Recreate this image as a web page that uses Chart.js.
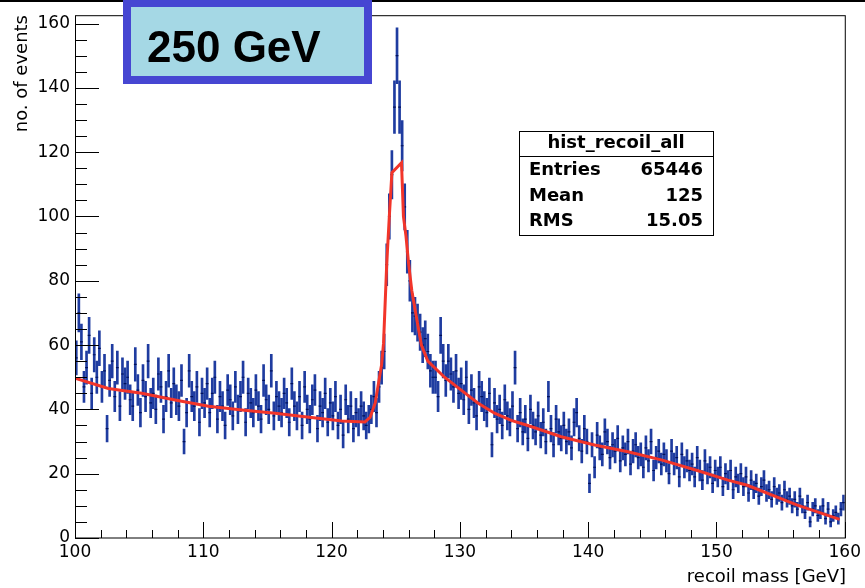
<!DOCTYPE html>
<html>
<head>
<meta charset="utf-8">
<title>recoil mass</title>
<script src="https://cdn.jsdelivr.net/npm/chart.js@4.4.0/dist/chart.umd.min.js"></script>
<style>
  html, body { margin: 0; padding: 0; background: #fff; }
  canvas { display: block; }
</style>
</head>
<body>
<canvas id="recoilChart" width="865" height="588"></canvas>
<script>
// histogram hist_recoil_all : 300 bins of 0.2 GeV from 100 to 160 GeV
const binLow = 100;
const binWidth = 0.2;
const counts = [
  56, 70, 61, 47, 53, 63, 45, 57, 50, 59,   // 100 - 102
  47, 52, 34, 49, 55, 44, 53, 41, 51, 48,   // 102 - 104
  50, 43, 41, 54, 46, 39, 49, 44, 55, 42,
  45, 40, 51, 47, 37, 44, 52, 42, 48, 43,
  41, 49, 30, 39, 52, 44, 41, 47, 36, 45,   // 108 - 110
  42, 48, 39, 45, 50, 37, 44, 41, 35, 46,
  43, 38, 47, 40, 44, 50, 36, 45, 42, 39,
  46, 41, 37, 49, 43, 40, 52, 38, 44, 41,
  39, 45, 42, 36, 48, 41, 38, 44, 35, 47,
  40, 37, 43, 46, 34, 41, 39, 45, 36, 42,   // 118 - 120
  38, 44, 35, 40, 32, 43, 37, 41, 34, 39,
  36, 41, 38, 35, 37, 40, 44, 39, 47, 53,
  58, 85, 100, 113, 134, 150, 134, 122, 103, 89,   // 124 - 126 (peak)
  80, 70, 69, 67, 64, 60, 62, 58, 52, 50,
  50, 44, 63, 55, 49, 55, 51, 47, 52, 45,   // 128 - 130
  48, 43, 50, 40, 46, 42, 38, 47, 44, 41,
  39, 45, 29, 42, 37, 40, 35, 43, 38, 36,
  41, 53, 34, 39, 33, 37, 31, 40, 35, 33,
  38, 32, 36, 30, 44, 34, 29, 37, 33, 31,
  35, 30, 33, 28, 36, 39, 31, 27, 34, 30,   // 138 - 140
  17, 29, 22, 32, 28, 26, 33, 30, 25, 29,
  27, 31, 24, 28, 26, 30, 23, 27, 29, 25,
  26, 22, 28, 24, 30, 21, 25, 27, 23, 26,
  24, 20, 27, 23, 25, 19, 26, 22, 24, 21,
  23, 19, 25, 21, 18, 24, 20, 22, 17, 21,   // 148 - 150
  19, 22, 16, 20, 18, 21, 15, 19, 17, 20,
  16, 19, 14, 18, 15, 17, 13, 16, 18, 14,
  15, 12, 16, 13, 14, 11, 15, 12, 13, 10,
  12, 9, 13, 10, 8, 11, 5, 9, 10, 7,
  8, 10, 6, 9, 5, 7, 8, 6, 9, 11            // 158 - 160
];
// weighted events: error of a bin = sqrt(weight * content)
const eventWeight = 0.5;

// fitted curve (red)
const fitX = [100, 102.6, 105.2, 107.8, 110.4, 113.0, 115.6, 118.1, 120.8, 122.6,
              123.0, 123.4, 123.9, 124.05, 124.3, 124.5, 124.7, 125.45, 125.6, 125.8,
              126.0, 126.25, 126.65, 127.0, 127.5, 128.8, 130.1, 131.4, 132.7, 134.0,
              135.3, 137.9, 140.5, 143.1, 145.7, 148.5, 150.9, 152.4, 156.3, 159.6];
const fitY = [49.7, 46.5, 45.0, 42.9, 41.0, 39.8, 38.8, 37.6, 36.4, 36.1,
              37.5, 42.0, 54.0, 60.6, 85.5, 100, 113.6, 116.7, 100, 93.8,
              85.5, 77.0, 67.8, 60.0, 55.0, 50.0, 46.0, 42.0, 38.8, 36.6,
              35.0, 31.5, 28.9, 26.8, 24.3, 21.0, 18.0, 16.4, 10.2, 5.8];

const xTicks = [100, 110, 120, 130, 140, 150, 160];
const yTicks = [0, 20, 40, 60, 80, 100, 120, 140, 160];

const energyLabel = '250 GeV';
const statsTitle = 'hist_recoil_all';
const statsNames = ['Entries', 'Mean', 'RMS'];
const statsValues = ['65446', '125', '15.05'];

const centres = counts.map((c, i) => binLow + (i + 0.5) * binWidth);
const errors = counts.map(c => Math.sqrt(eventWeight * c));

// ROOT-like frame, inward ticks, titles and boxes
const rootFrame = {
  id: 'rootFrame',
  beforeDraw(chart) {
    const ctx = chart.ctx;
    ctx.save();
    ctx.fillStyle = '#fff';
    ctx.fillRect(0, 0, chart.width, chart.height);
    ctx.restore();
  },
  afterDraw(chart) {
    const { ctx, chartArea: a, scales: { x, y } } = chart;
    ctx.save();
    ctx.strokeStyle = '#000';
    ctx.lineWidth = 1;
    ctx.strokeRect(a.left + 0.5, a.top + 0.5, a.right - a.left, a.bottom - a.top - 0.5);

    ctx.beginPath();
    for (let v = 0; v <= 160; v += 5) {
      const py = Math.round(y.getPixelForValue(v)) + 0.5;
      const len = v % 20 === 0 ? 24 : 12;
      ctx.moveTo(a.left, py);
      ctx.lineTo(a.left + len, py);
    }
    for (let v = 100; v <= 160; v += 2) {
      const px = Math.round(x.getPixelForValue(v)) + 0.5;
      const len = v % 10 === 0 ? 16 : 8;
      ctx.moveTo(px, a.bottom);
      ctx.lineTo(px, a.bottom - len);
    }
    ctx.stroke();

    // axis titles
    ctx.fillStyle = '#000';
    ctx.font = '18px "DejaVu Sans"';
    ctx.textAlign = 'right';
    ctx.textBaseline = 'alphabetic';
    ctx.fillText('recoil mass [GeV]', 846, 582);
    ctx.save();
    ctx.translate(27, 15);
    ctx.rotate(-Math.PI / 2);
    ctx.fillText('no. of events', 0, 0);
    ctx.restore();

    // stats box
    const sx = 519, sy = 131, sw = 194, sh = 104;
    ctx.fillStyle = '#fff';
    ctx.fillRect(sx, sy, sw, sh);
    ctx.strokeRect(sx + 0.5, sy + 0.5, sw, sh);
    ctx.beginPath();
    ctx.moveTo(sx, 156.5);
    ctx.lineTo(sx + sw, 156.5);
    ctx.stroke();
    ctx.fillStyle = '#000';
    ctx.font = 'bold 18px "DejaVu Sans"';
    ctx.textAlign = 'center';
    ctx.fillText(statsTitle, sx + sw / 2, 148);
    const rowY = [175, 201, 226];
    statsNames.forEach((n, i) => {
      ctx.textAlign = 'left';
      ctx.fillText(n, 529, rowY[i]);
      ctx.textAlign = 'right';
      ctx.fillText(statsValues[i], 703, rowY[i]);
    });

    // top edge line and energy label box
    ctx.fillStyle = '#000';
    ctx.fillRect(0, 0, chart.width, 2);
    ctx.fillStyle = '#4646d2';
    ctx.fillRect(123, 0, 249, 84);
    ctx.fillStyle = '#a5d8e5';
    ctx.fillRect(131, 7, 233, 69);
    ctx.fillStyle = '#000';
    ctx.font = 'bold 44px "Liberation Sans"';
    ctx.textAlign = 'left';
    ctx.fillText(energyLabel, 147, 62);
    ctx.restore();
  }
};

const tickFont = { family: 'DejaVu Sans', size: 17 };

new Chart(document.getElementById('recoilChart'), {
  type: 'bar',
  data: {
    datasets: [
      {
        type: 'line',
        label: 'fit',
        data: fitX.map((v, i) => ({ x: v, y: fitY[i] })),
        borderColor: '#f2352a',
        borderWidth: 3,
        pointRadius: 0,
        tension: 0,
        order: 0
      },
      {
        type: 'scatter',
        label: 'bin centre',
        data: centres.map((v, i) => ({ x: v, y: counts[i] })),
        pointStyle: 'line',
        radius: 1.4,
        borderColor: '#00105a',
        borderWidth: 1.2,
        order: 1
      },
      {
        type: 'bar',
        label: 'error',
        data: centres.map((v, i) => ({ x: v, y: [counts[i] - errors[i], counts[i] + errors[i]] })),
        backgroundColor: '#1f3ca0',
        barThickness: 2,
        order: 2
      }
    ]
  },
  options: {
    responsive: false,
    animation: false,
    layout: { padding: { left: 0, right: 18, top: 15, bottom: 0 } },
    plugins: { legend: { display: false }, tooltip: { enabled: false } },
    scales: {
      x: {
        type: 'linear',
        min: 100,
        max: 160,
        offset: false,
        grid: { display: false, drawTicks: false },
        border: { display: false },
        afterFit(s) { s.height = 50; },
        afterBuildTicks(s) { s.ticks = xTicks.map(v => ({ value: v })); },
        ticks: { font: tickFont, color: '#000', padding: 4, maxRotation: 0, autoSkip: false }
      },
      y: {
        min: 0,
        max: 162.6,
        grid: { display: false, drawTicks: false },
        border: { display: false },
        afterFit(s) { s.width = 75; },
        afterBuildTicks(s) { s.ticks = yTicks.map(v => ({ value: v })); },
        ticks: { font: tickFont, color: '#000', padding: 5, autoSkip: false }
      }
    }
  },
  plugins: [rootFrame]
});
</script>
</body>
</html>
